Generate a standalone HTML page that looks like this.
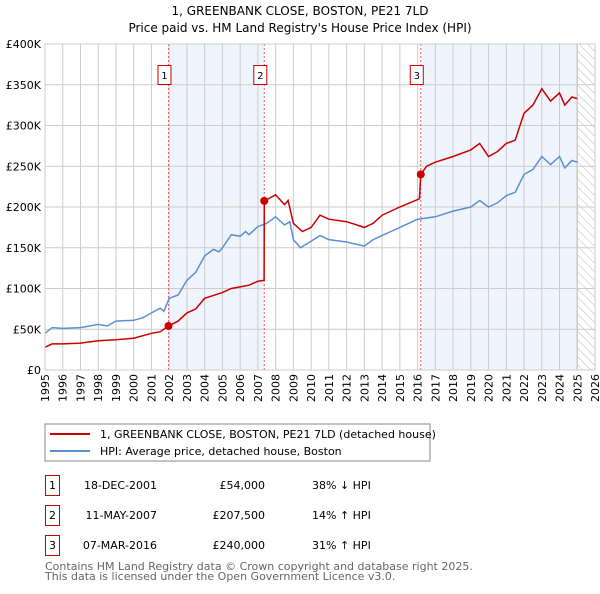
<!DOCTYPE html>
<html><head><meta charset="utf-8"><style>
body{margin:0;background:#fff;font-family:"DejaVu Sans","Liberation Sans",sans-serif;}
svg text{font-family:"DejaVu Sans","Liberation Sans",sans-serif;}
</style></head><body>
<svg id="c" width="600" height="590" xmlns="http://www.w3.org/2000/svg">
<defs><pattern id="hatch" width="6" height="6" patternUnits="userSpaceOnUse" patternTransform="rotate(-45)"><line x1="0" y1="0" x2="0" y2="6" stroke="#bbb" stroke-width="1"/></pattern></defs>
<text x="300" y="15" text-anchor="middle" font-size="12">1, GREENBANK CLOSE, BOSTON, PE21 7LD</text>
<text x="300" y="32" text-anchor="middle" font-size="12">Price paid vs. HM Land Registry's House Price Index (HPI)</text>
<g id="plot"></g>
<rect x="45" y="424" width="385" height="37" fill="#fff" stroke="#888"/>
<line x1="50" y1="434" x2="90" y2="434" stroke="#cc0000" stroke-width="2"/>
<text x="100" y="438" font-size="11">1, GREENBANK CLOSE, BOSTON, PE21 7LD (detached house)</text>
<line x1="50" y1="451" x2="90" y2="451" stroke="#5b8fd4" stroke-width="2"/>
<text x="100" y="455" font-size="11">HPI: Average price, detached house, Boston</text>
<g font-size="11">
<rect x="45.5" y="475.5" width="14" height="20" fill="#fff" stroke="#c00"/><text x="52.5" y="489" text-anchor="middle">1</text>
<text x="157" y="489" text-anchor="end">18-DEC-2001</text>
<text x="265" y="489" text-anchor="end">£54,000</text>
<text x="312" y="489">38% ↓ HPI</text>
<rect x="45.5" y="505.5" width="14" height="20" fill="#fff" stroke="#c00"/><text x="52.5" y="519" text-anchor="middle">2</text>
<text x="157" y="519" text-anchor="end">11-MAY-2007</text>
<text x="265" y="519" text-anchor="end">£207,500</text>
<text x="312" y="519">14% ↑ HPI</text>
<rect x="45.5" y="535.5" width="14" height="20" fill="#fff" stroke="#c00"/><text x="52.5" y="549" text-anchor="middle">3</text>
<text x="157" y="549" text-anchor="end">07-MAR-2016</text>
<text x="265" y="549" text-anchor="end">£240,000</text>
<text x="312" y="549">31% ↑ HPI</text>
</g>
<text x="45" y="570" font-size="11" fill="#666">Contains HM Land Registry data © Crown copyright and database right 2025.</text>
<text x="45" y="580" font-size="11" fill="#666">This data is licensed under the Open Government Licence v3.0.</text>
</svg>
<script>
const hpiYears=[1995,1995.4,1996,1997,1998,1998.5,1999,2000,2000.5,2001,2001.5,2001.7,2002,2002.5,2003,2003.5,2004,2004.5,2004.8,2005,2005.5,2006,2006.3,2006.5,2007,2007.5,2008,2008.5,2008.8,2009,2009.4,2010,2010.5,2011,2012,2013,2013.5,2014,2015,2016,2017,2018,2019,2019.5,2020,2020.5,2021,2021.5,2022,2022.5,2023,2023.5,2024,2024.3,2024.7,2025];
const hpiValues=[45,52,51,52,56,54,60,61,64,70,76,72,88,92,110,120,140,148,145,150,166,164,170,166,176,180,188,178,182,160,150,158,165,160,157,152,160,165,175,185,188,195,200,208,200,205,214,218,240,246,262,252,262,248,257,255];
const priceYears=[1995,1995.4,1996,1997,1998,1999,2000,2001,2001.5,2001.96,2002.5,2003,2003.5,2004,2005,2005.5,2006,2006.5,2007,2007.35,2007.36,2008,2008.5,2008.7,2009,2009.5,2010,2010.5,2011,2012,2013,2013.5,2014,2015,2016.1,2016.18,2016.5,2017,2018,2019,2019.5,2020,2020.5,2021,2021.5,2022,2022.5,2023,2023.5,2024,2024.3,2024.7,2025];
const priceValues=[28,32,32,33,36,37,39,45,47,54,60,70,75,88,95,100,102,104,109,110,207.5,215,203,208,180,170,175,190,185,182,175,180,190,200,210,240,250,255,262,270,278,262,268,278,282,315,325,345,330,340,325,335,333];
const saleYears=[2001.96,2007.36,2016.18];
const saleValues=[54,207.5,240];
const saleLabels=["1","2","3"];
const yTicks=[0,50,100,150,200,250,300,350,400];
const yTickLabels=["£0","£50K","£100K","£150K","£200K","£250K","£300K","£350K","£400K"];
const xTicks=[];for(let y=1995;y<=2026;y++)xTicks.push(y);

const X0=45,X1=595,Y0=370,Y1=44;
const xs=v=>X0+(v-1995)/(2026-1995)*(X1-X0);
const ys=v=>Y0-v/400*(Y0-Y1);
const NS="http://www.w3.org/2000/svg";
const g=document.getElementById('plot');
function mk(t,a){const e=document.createElementNS(NS,t);for(const k in a)e.setAttribute(k,a[k]);g.appendChild(e);return e;}

let bg=mk('rect',{x:X0,y:Y1,width:X1-X0,height:Y0-Y1,fill:'#fff'});


let s1=mk('rect',{x:xs(saleYears[0]),y:Y1,width:xs(saleYears[1])-xs(saleYears[0]),height:Y0-Y1,fill:'#f0f4fc'});


let s2=mk('rect',{x:xs(saleYears[2]),y:Y1,width:xs(2025)-xs(saleYears[2]),height:Y0-Y1,fill:'#f0f4fc'});


let ht=mk('rect',{x:xs(2025),y:Y1,width:X1-xs(2025),height:Y0-Y1,fill:'url(#hatch)'});


mk('line',{x1:xs(2025),y1:Y1,x2:xs(2025),y2:Y0,stroke:'#999','stroke-width':1});
xTicks.forEach(y=>{
  let l=mk('line',{x1:xs(y),y1:Y1,x2:xs(y),y2:Y0,stroke:'#ccc','stroke-width':1});
  
  
  let t=mk('text',{x:0,y:0,'font-size':11,'text-anchor':'end',transform:`translate(${xs(y)+4},${Y0+4}) rotate(-90)`});
  t.textContent=y;
  
  
});
yTicks.forEach((v,i)=>{
  let l=mk('line',{x1:X0,y1:ys(v),x2:X1,y2:ys(v),stroke:'#ccc','stroke-width':1});
  
  
  let t=mk('text',{x:X0-4,y:ys(v)+4,'font-size':11,'text-anchor':'end'});
  t.textContent=yTickLabels[i];
  
  
});
saleYears.forEach((y,i)=>{
  let l=mk('line',{x1:xs(y),y1:Y1,x2:xs(y),y2:Y0,stroke:'#e06060','stroke-width':1,'stroke-dasharray':'2,2'});
  
  
  let r=mk('rect',{x:xs(y)-10.5,y:65.5,width:13,height:19,fill:'#fff',stroke:'#c00'});
  
  
  let t=mk('text',{x:xs(y)-4,y:79,'font-size':10,'text-anchor':'middle'});
  t.textContent=saleLabels[i];
  
  
});
function path(xa,va){return xa.map((x,i)=>(i?'L':'M')+xs(x).toFixed(1)+','+ys(va[i]).toFixed(1)).join('');}
let hp=mk('path',{d:path(hpiYears,hpiValues),fill:'none',stroke:'#5b8fd4','stroke-width':1.5});


let pp=mk('path',{d:path(priceYears,priceValues),fill:'none',stroke:'#cc0000','stroke-width':1.5});


saleYears.forEach((y,i)=>{
  let c=mk('circle',{cx:xs(y),cy:ys(saleValues[i]),r:4,fill:'#cc0000'});
  
  
});
let fr=mk('rect',{x:X0,y:Y1,width:X1-X0,height:Y0-Y1,fill:'none',stroke:'#ccc'});


</script>
</body></html>
